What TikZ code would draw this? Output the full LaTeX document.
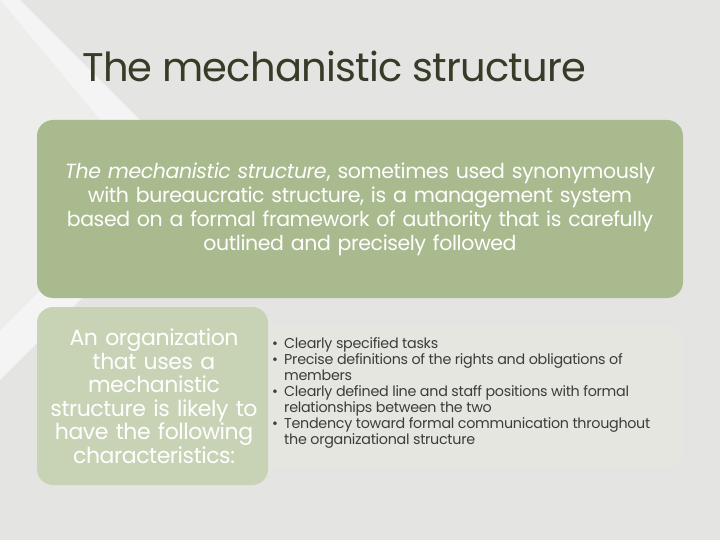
\documentclass[tikz,border=0pt]{standalone}
\usepackage{fontspec}
\setmainfont{Poppins}
\begin{document}
\begin{tikzpicture}[x=1pt,y=-1pt,
  txt/.style n args={2}{font=\fontsize{#1}{#2}\selectfont\addfontfeatures{LetterSpace=-2}, align=center, inner sep=0pt},
  box/.style={rounded corners=16pt, draw=none}]
\definecolor{bg}{HTML}{E4E4E2}
\definecolor{bg2}{HTML}{EDEDEB}
\definecolor{bigbox}{HTML}{A9BA8E}
\definecolor{leftbox}{HTML}{C8D3B6}
\definecolor{rightbox}{HTML}{E6E6E0}
\definecolor{titlec}{HTML}{3A3A28}
\definecolor{bodyc}{HTML}{3C3C3C}
\useasboundingbox (0,0) rectangle (720,540);
\fill[bg] (0,0) rectangle (720,540);
\fill[white!60!bg] (0,0) -- (20,0) -- (200,180) -- (0,380) -- (0,330) -- (150,180) -- cycle;
\fill[bg2] (0,0) -- (150,180) -- (0,330) -- cycle;
\node[txt={40}{40}, text=titlec, anchor=west] (title) at (82,66) {The mechanistic structure};
\fill[box, bigbox] (37,120) rectangle (683,298);
\node[txt={20.5}{24}, text=white, text width=640pt] (main) at (360,209)
 {\textit{The mechanistic structure}, sometimes used synonymously\\ with bureaucratic structure, is a management system\\ based on a formal framework of authority that is carefully\\ outlined and precisely followed};
\fill[box, rightbox] (248,325) rectangle (683,467);
\fill[box, leftbox] (37,307) rectangle (268,485);
\node[txt={22}{23.5}, text=white, text width=228pt] (left) at (154,396)
 {An organization\\ that uses a\\ mechanistic\\ structure is likely to\\ have the following\\ characteristics:};
\node[txt={14.3}{16}, text=bodyc, align=left, anchor=north west] (list) at (272,337)
 {\setlength{\tabcolsep}{0pt}\renewcommand{\arraystretch}{1}%
 \begin{tabular}{@{}p{12pt}@{}l@{}}
 \textbullet & Clearly specified tasks\\
 \textbullet & Precise definitions of the rights and obligations of\\
  & members\\
 \textbullet & Clearly defined line and staff positions with formal\\
  & relationships between the two\\
 \textbullet & Tendency toward formal communication throughout\\
  & the organizational structure
 \end{tabular}};
\end{tikzpicture}
\end{document}
